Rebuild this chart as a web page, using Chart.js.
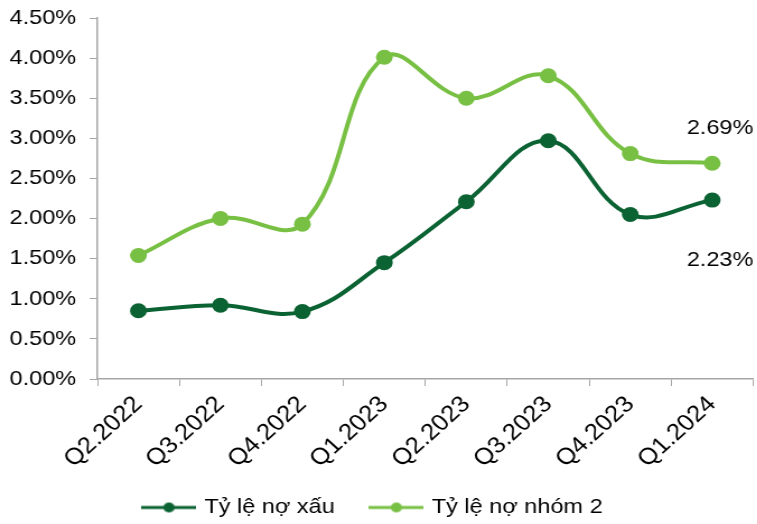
<!DOCTYPE html>
<html>
<head>
<meta charset="utf-8">
<script src="https://cdn.jsdelivr.net/npm/chart.js@4/dist/chart.umd.min.js"></script>
<style>
  html, body { margin: 0; padding: 0; background: #fff; overflow: hidden; }
  #wrap { width: 680px; height: 524px; transform: scaleX(1.12); transform-origin: 0 0; }
</style>
</head>
<body>
<div id="wrap"><canvas id="chart"></canvas></div>
<script>
const quarters = ['Q2.2022','Q3.2022','Q4.2022','Q1.2023','Q2.2023','Q3.2023','Q4.2023','Q1.2024'];
const npl = [0.85, 0.92, 0.84, 1.45, 2.21, 2.97, 2.05, 2.23];
const group2 = [1.54, 2.00, 1.93, 4.01, 3.50, 3.78, 2.81, 2.69];
const yTicks = [0, 0.5, 1, 1.5, 2, 2.5, 3, 3.5, 4, 4.5];

const dark = '#0b6232';
const light = '#78c043';
const axisGray = '#a6a6a6';
const FONT = 'Liberation Sans, Arial, sans-serif';

// legend marker: line with a dot in the middle
const legendMark = color => {
  const c = document.createElement('canvas');
  c.width = 49; c.height = 12;
  const ctx = c.getContext('2d');
  ctx.strokeStyle = color; ctx.lineWidth = 3;
  ctx.beginPath(); ctx.moveTo(0, 6); ctx.lineTo(49, 6); ctx.stroke();
  ctx.fillStyle = color;
  ctx.beginPath(); ctx.arc(24.5, 6, 5, 0, Math.PI * 2); ctx.fill();
  return c;
};

// value labels on the last point only
const lastLabels = {
  id: 'lastLabels',
  afterDatasetsDraw(chart) {
    const ctx = chart.ctx;
    ctx.save();
    ctx.font = '21px ' + FONT;
    ctx.fillStyle = '#000';
    ctx.textAlign = 'center';
    ctx.textBaseline = 'middle';
    const offs = [60, -35];
    chart.data.datasets.forEach((ds, i) => {
      const meta = chart.getDatasetMeta(i);
      const p = meta.data[meta.data.length - 1];
      const v = ds.data[ds.data.length - 1];
      ctx.fillText(v.toFixed(2) + '%', p.x + 7, p.y + offs[i]);
    });
    ctx.restore();
  }
};

// nudge the legend a little left and down; let x labels run past the axis box
const legendNudge = {
  id: 'legendNudge',
  afterLayout(chart) {
    const l = chart.legend;
    l.left -= 6; l.right -= 6;
    l.top += 4; l.bottom += 4;
    chart.scales.x.bottom = chart.height;
  }
};

new Chart(document.getElementById('chart'), {
  type: 'line',
  data: {
    labels: quarters,
    datasets: [
      { label: 'Tỷ lệ nợ xấu', data: npl, borderColor: dark, backgroundColor: dark, pointBackgroundColor: dark, pointBorderWidth: 0, borderWidth: 4, pointRadius: 7.5, tension: 0.4 },
      { label: 'Tỷ lệ nợ nhóm 2', data: group2, borderColor: light, backgroundColor: light, pointBackgroundColor: light, pointBorderWidth: 0, borderWidth: 4, pointRadius: 7.5, tension: 0.4 }
    ]
  },
  options: {
    responsive: true,
    maintainAspectRatio: false,
    animation: false,
    layout: { padding: { top: 18, right: 0, left: 0, bottom: 0 } },
    plugins: {
      tooltip: { enabled: false },
      legend: {
        position: 'bottom',
        labels: {
          usePointStyle: true,
          pointStyleWidth: 42,
          padding: 34,
          color: '#000',
          font: { family: FONT, size: 21 },
          generateLabels: chart => chart.data.datasets.map((ds, i) => ({
            text: ds.label, pointStyle: legendMark(ds.borderColor), datasetIndex: i,
            fillStyle: ds.borderColor, strokeStyle: ds.borderColor, lineWidth: 0, hidden: false
          }))
        }
      }
    },
    scales: {
      x: {
        offset: true,
        grid: { display: true, drawOnChartArea: false, drawTicks: true, tickLength: 7, color: axisGray, offset: true },
        border: { color: axisGray, width: 1.5 },
        ticks: { color: '#000', font: { family: FONT, size: 23 }, maxRotation: 45, minRotation: 45, padding: 5 },
        afterFit: s => { s.height = 80; }
      },
      y: {
        min: 0, max: 4.5,
        afterBuildTicks: s => { s.ticks = yTicks.map(v => ({ value: v })); },
        grid: { display: true, drawOnChartArea: false, drawTicks: true, tickLength: 7, color: axisGray },
        border: { color: axisGray, width: 1.5 },
        ticks: { color: '#000', font: { family: FONT, size: 21 }, padding: 12, callback: v => v.toFixed(2) + '%' },
        afterFit: s => { s.width = 87; s.paddingTop = 0; }
      }
    }
  },
  plugins: [lastLabels, legendNudge]
});
</script>
</body>
</html>
